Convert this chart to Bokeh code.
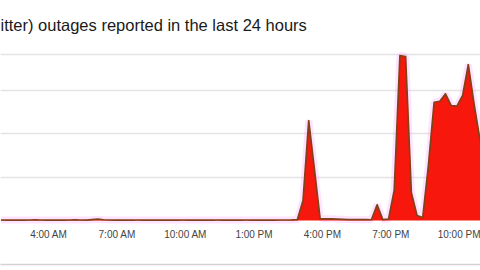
from bokeh.plotting import figure
from bokeh.models import FixedTicker, Range1d, LinearAxis, ColumnDataSource
from bokeh.embed import file_html
from bokeh.resources import INLINE

# ---- data (15-minute reports, hours of day) ----
start_hour = 1.9          # time of first sample (hours)
step_hours = 0.25
reports = [
    12, 10, 12, 11, 10, 12, 13, 12, 11, 10,
    12, 11, 12, 13, 12, 11, 20, 30, 18, 12,
    11, 12, 10, 11, 12, 11, 10, 12, 11, 12,
    10, 11, 12, 11, 12, 10, 12, 11, 12, 11,
    12, 10, 11, 12, 11, 12, 10, 12, 11, 12,
    12, 14, 20, 462, 2309, 1190, 45, 40, 38, 32,
    28, 22, 20, 20, 20, 18, 362, 20, 30, 700,
    3811, 3788, 650, 115, 70, 1277, 2732, 2755, 2926, 2656,
    2640, 2887, 3603, 2700, 1900, 1000,
]
times = [start_hour + step_hours * i for i in range(len(reports))]

tick_hours = [4, 7, 10, 13, 16, 19, 22]
tick_labels = ["4:00 AM", "7:00 AM", "10:00 AM", "1:00 PM", "4:00 PM", "7:00 PM", "10:00 PM"]
grid_levels = [1000, 2000, 3000, 3827]

title_text = "itter) outages reported in the last 24 hours"

src = ColumnDataSource(dict(t=times, v=reports))

p = figure(width=480, height=270, output_backend="svg", toolbar_location=None,
           x_range=Range1d(1.882, 22.934), y_range=Range1d(-1016, 4065),
           min_border_left=0, min_border_right=0, min_border_top=44, min_border_bottom=6,
           x_axis_location=None, y_axis_location=None)
p.outline_line_color = None
p.background_fill_color = "white"
p.border_fill_color = "white"

p.title.text = title_text
p.title.text_font = "Liberation Sans"
p.title.text_font_size = "16.5px"
p.title.text_font_style = "normal"
p.title.text_color = "#1a1a1a"
p.title.offset = 0
p.title.standoff = 21

# grid
p.ygrid.ticker = FixedTicker(ticks=grid_levels)
p.ygrid.grid_line_color = "#e4e4e4"
p.ygrid.grid_line_width = 1.5
p.xgrid.grid_line_color = None

# x axis sitting on the zero line
xa = LinearAxis(fixed_location=0,
                ticker=FixedTicker(ticks=tick_hours),
                major_label_overrides={h: l for h, l in zip(tick_hours, tick_labels)})
xa.axis_line_color = None
xa.major_tick_line_color = None
xa.minor_tick_line_color = None
xa.major_label_text_font = "Liberation Sans"
xa.major_label_text_font_size = "10px"
xa.major_label_text_color = "#444444"
xa.major_label_standoff = 2
p.add_layout(xa, "below")

# bottom separator line
xb = LinearAxis(ticker=FixedTicker(ticks=[]))
xb.axis_line_color = "#d2d2d2"
xb.axis_line_width = 1.5
xb.major_tick_line_color = None
xb.minor_tick_line_color = None
xb.major_label_text_font_size = "0px"
p.add_layout(xb, "below")

# glow, area, outline
p.line("t", "v", source=src, line_color="#ff8cff", line_alpha=0.25, line_width=7)
p.varea(x="t", y1=0, y2="v", source=src, fill_color="#f7170c")
p.line("t", "v", source=src, line_color="#7d4417", line_width=1.7, line_join="round")

open("out.html", "w").write(file_html(p, INLINE))
